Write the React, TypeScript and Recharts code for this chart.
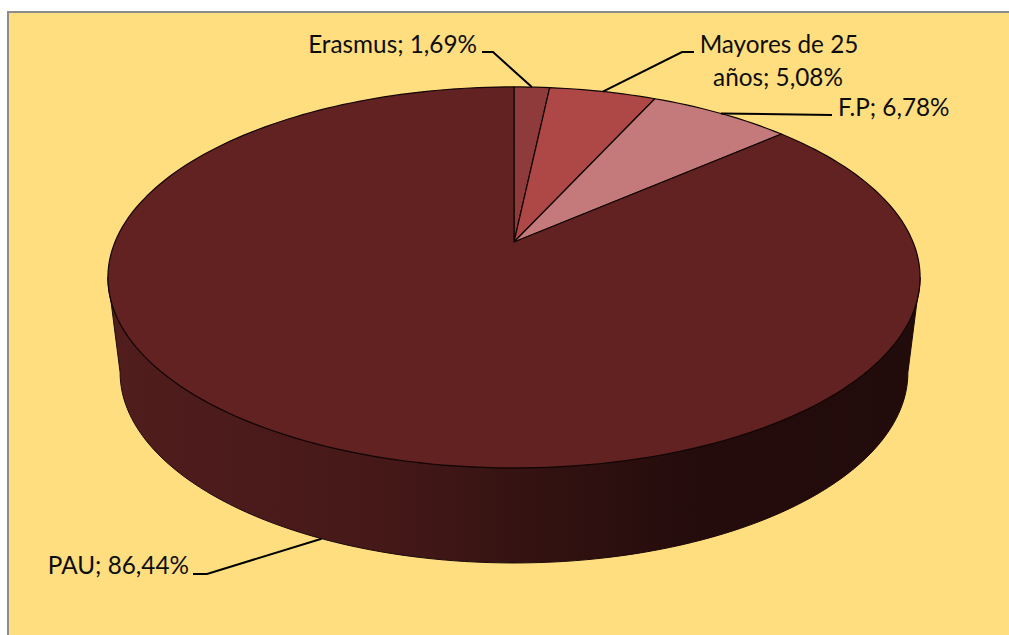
import { PieChart, Pie, Cell } from "recharts";

const categories = ["Erasmus", "Mayores de 25 años", "F.P", "PAU"];
const shares = [1.69, 5.08, 6.78, 86.44];
const sliceColors = ["#8f3a3b", "#ae4846", "#c47a7a", "#622222"];

const data = categories.map((name, i) => ({ name, value: shares[i] }));

// perspective of the tilted disc
const TILT = 0.186;
const FLATTEN = 0.461;
const BASE_SCALE = 0.97;
const DEPTH = 95;
const WALL_FROM = 100.7;
const WALL_TO = 259.3;

// leader elbow and label placement, per category
const labelLayout = [
  { elbow: [493, 52], end: [482, 52], x: 477, y: 53, anchor: "end", lines: null },
  { elbow: [682, 52], end: [694, 52], x: 779, y: 53, anchor: "middle", lines: ["Mayores de 25", "años;"] },
  { elbow: null, end: [832, 115], x: 838, y: 116, anchor: "start", lines: null },
  { elbow: [207, 574], end: [193, 574], x: 189, y: 574, anchor: "end", lines: null },
];

const rad = (deg: number) => (deg * Math.PI) / 180;

// clock is degrees clockwise from 12 o'clock
function project(clock: number, cx: number, cy: number, r: number, base = false) {
  const u = Math.sin(rad(clock));
  const v = Math.cos(rad(clock));
  const w = 1 + TILT * v;
  const rx = base ? r * BASE_SCALE : r;
  const ry = r * FLATTEN;
  return [cx + (rx * u) / w, cy + (base ? DEPTH : 0) - (ry * v) / w];
}

function rim(from: number, to: number, cx: number, cy: number, r: number, base = false) {
  const steps = Math.max(2, Math.ceil(Math.abs(to - from) / 1.5));
  const pts: string[] = [];
  for (let i = 0; i <= steps; i++) {
    const [x, y] = project(from + ((to - from) * i) / steps, cx, cy, r, base);
    pts.push(`${x.toFixed(2)} ${y.toFixed(2)}`);
  }
  return pts;
}

function DiscSlice(props: any) {
  const { cx, cy, outerRadius, startAngle, endAngle, fill } = props;
  const from = 90 - startAngle;
  const to = 90 - endAngle;
  const wallFrom = Math.max(from, WALL_FROM);
  const wallTo = Math.min(to, WALL_TO);
  const top = rim(from, to, cx, cy, outerRadius);
  return (
    <g>
      {wallFrom < wallTo && (
        <>
          <defs>
            <linearGradient id="wallShade" gradientUnits="userSpaceOnUse" x1={110} y1={0} x2={918} y2={0}>
              <stop offset="0" stopColor="#511d1d" />
              <stop offset="0.35" stopColor="#451818" />
              <stop offset="0.5" stopColor="#351312" />
              <stop offset="0.72" stopColor="#250c0c" />
              <stop offset="1" stopColor="#220b0b" />
            </linearGradient>
          </defs>
          <path
            d={`M${rim(wallFrom, wallTo, cx, cy, outerRadius).join("L")}L${rim(wallTo, wallFrom, cx, cy, outerRadius, true).join("L")}Z`}
            fill="url(#wallShade)"
            stroke="#1a0808"
            strokeWidth={1}
          />
        </>
      )}
      <path
        d={`M${cx} ${cy}L${top.join("L")}Z`}
        fill={fill}
        stroke="#120505"
        strokeWidth={1.2}
        strokeLinejoin="round"
      />
    </g>
  );
}

function SliceLabel(props: any) {
  const { cx, cy, outerRadius, midAngle, index, name, value } = props;
  const layout = labelLayout[index];
  const clock = ((90 - midAngle) % 360 + 360) % 360;
  const onBase = clock > WALL_FROM && clock < WALL_TO;
  const [sx, sy] = project(clock, cx, cy, outerRadius, onBase);
  const points = [[sx, sy], ...(layout.elbow ? [layout.elbow] : []), layout.end];
  const pct = `${value.toFixed(2).replace(".", ",")}%`;
  const common = {
    fontFamily: "Lato, sans-serif",
    fontSize: 24.3,
    fill: "#0d0d0d",
    textAnchor: layout.anchor as any,
  };
  return (
    <g>
      <polyline points={points.map((p) => p.join(",")).join(" ")} fill="none" stroke="#000" strokeWidth={2} />
      {layout.lines ? (
        <>
          <text x={layout.x} y={layout.y} {...common}>{layout.lines[0]}</text>
          <text x={layout.x - 1} y={layout.y + 33} {...common}>{`${layout.lines[1]} ${pct}`}</text>
        </>
      ) : (
        <text x={layout.x} y={layout.y} {...common}>{`${name}; ${pct}`}</text>
      )}
    </g>
  );
}

export default function App() {
  return (
    <div style={{ position: "absolute", left: 0, top: 0, width: 1009, height: 635, background: "#fff", overflow: "hidden" }}>
      <div
        style={{
          position: "absolute",
          left: 7,
          top: 11,
          right: 0,
          bottom: 0,
          background: "#ffde7f",
          borderTop: "2px solid #8c8c8c",
          borderLeft: "2px solid #8c8c8c",
        }}
      />
      <div style={{ position: "absolute", left: 0, top: 0 }}>
        <PieChart width={1009} height={635} margin={{ top: 0, right: 0, bottom: 0, left: 0 }}>
          <Pie
            data={data}
            dataKey="value"
            nameKey="name"
            cx={514}
            cy={242}
            outerRadius={399}
            startAngle={90}
            endAngle={-270}
            stroke="none"
            shape={DiscSlice}
            label={SliceLabel}
            labelLine={false}
            isAnimationActive={false}
          >
            {data.map((d, i) => (
              <Cell key={d.name} fill={sliceColors[i]} />
            ))}
          </Pie>
        </PieChart>
      </div>
    </div>
  );
}
